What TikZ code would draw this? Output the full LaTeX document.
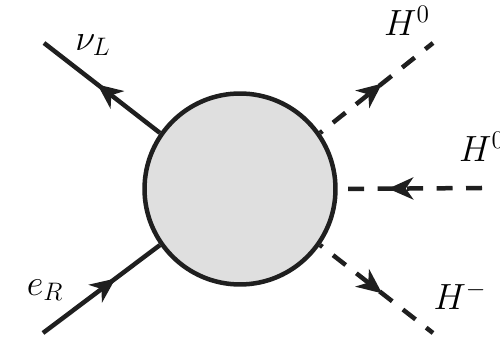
\documentclass[tikz,border=0pt]{standalone}
\usepackage{amsmath,amssymb}
\usepackage{tikz}
\usetikzlibrary{arrows.meta,decorations.markings}

\begin{document}
\begin{tikzpicture}[x=0.02cm,y=-0.02cm,
  leg/.style={line width=0.09cm,draw=black!88},
  scalar/.style={leg,dash pattern=on 0.32cm off 0.27cm},
  midarrow/.style={postaction={decorate},decoration={markings,
    mark=at position #1 with {\arrow{Stealth[length=0.5cm,width=0.44cm,inset=0.15cm]}}}},
  blobstyle/.style={draw=black!88,circle,fill=gray!25,line width=0.09cm,
    minimum size=3.82cm,inner sep=0pt},
  lbl/.style={font=\huge}]
\useasboundingbox (0,0) rectangle (500,340);
\node[blobstyle] (blob) at (240,189) {};
\coordinate (nu) at (44,43);
\coordinate (e) at (43,333);
\coordinate (h1) at (433,43);
\coordinate (h2) at (482,188);
\coordinate (h3) at (433,333);
\draw[leg,midarrow=0.54] (blob.145) -- (nu);
\draw[leg,midarrow=0.62] (e) -- (blob.215);
\draw[scalar,dash phase=0.26cm,midarrow=0.55] (blob.35) -- (h1);
\draw[scalar,midarrow=0.65] (h2) -- (blob.east);
\draw[scalar,dash phase=0.26cm,midarrow=0.55] (blob.-35) -- (h3);
\node[lbl] (nuL) at (93,45) {$\nu_L$};
\node[lbl] (eR) at (45,290) {$e_R$};
\node[lbl] (H0a) at (407,21) {$H^0$};
\node[lbl] (H0b) at (482,147) {$H^0$};
\node[lbl] (Hm) at (460,296) {$H^-$};
\end{tikzpicture}
\end{document}
